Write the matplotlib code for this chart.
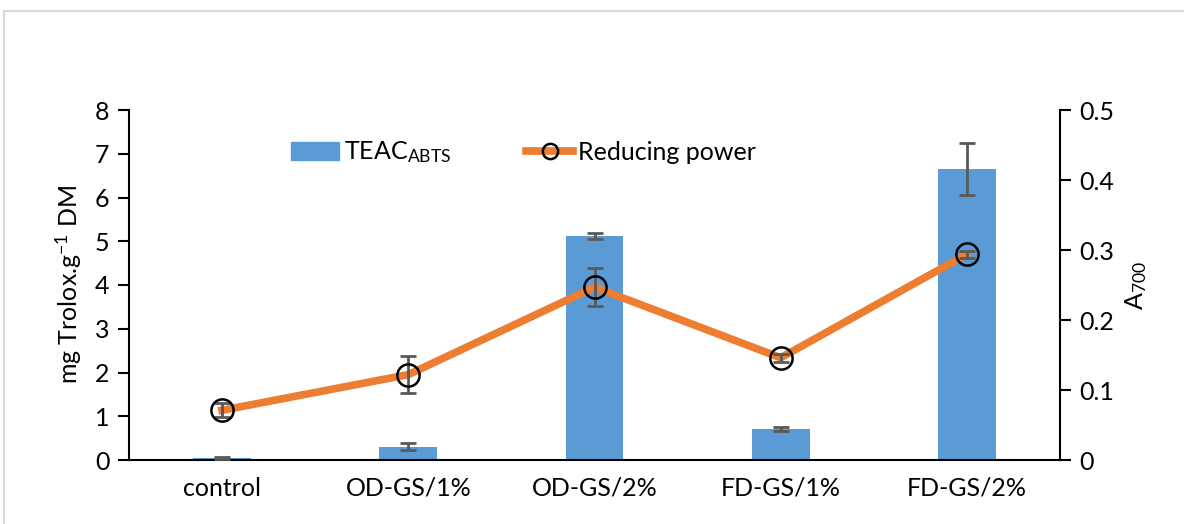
import matplotlib
matplotlib.use('Agg')
import numpy as np
import matplotlib.pyplot as plt
from matplotlib.patches import Rectangle
from matplotlib.lines import Line2D
from matplotlib.patches import Patch

plt.rcParams['font.family'] = ['Lato', 'DejaVu Sans']
plt.rcParams['mathtext.default'] = 'regular'

categories = ['control', 'OD-GS/1%', 'OD-GS/2%', 'FD-GS/1%', 'FD-GS/2%']
teac = [0.04, 0.30, 5.13, 0.71, 6.65]
teac_err = [0.02, 0.08, 0.07, 0.05, 0.60]
a700 = [0.071, 0.122, 0.247, 0.146, 0.294]
a700_err = [0.010, 0.026, 0.027, 0.006, 0.005]

blue = '#5B9BD5'
orange = '#ED7D31'
errc = '#595959'
fs = 18

fig = plt.figure(figsize=(11.84, 5.24), dpi=100)
# light gray outer frame
fig.patches.append(Rectangle((4/1184, -0.05), 1.1, 1 - 11/524 + 0.05, transform=fig.transFigure,
                             fill=False, edgecolor='#d9d9d9', linewidth=1.5))

ax1 = fig.add_axes([129/1184, 1 - 460/524, (1060 - 129)/1184, 350/524])
x = np.arange(len(categories))
ax1.bar(x, teac, width=0.31, color=blue, zorder=2)
ax1.errorbar(x, teac, yerr=teac_err, fmt='none', ecolor=errc, elinewidth=2, capsize=6, capthick=2, zorder=3)
ax1.set_xlim(-0.5, 4.5)
ax1.set_ylim(0, 8)
ax1.set_yticks(range(0, 9))
ax1.set_xticks(x)
ax1.set_xticklabels(categories)
ax1.tick_params(axis='x', length=0, labelsize=fs, pad=12)
ax1.tick_params(axis='y', length=8, width=1.5, labelsize=fs, direction='out', pad=6)
ax1.spines['top'].set_visible(False)
ax1.spines['right'].set_visible(False)
ax1.spines['left'].set_linewidth(1.5)
ax1.spines['bottom'].set_linewidth(1.5)
ax1.set_ylabel('mg Trolox.g$^{-1}$ DM', fontsize=fs, labelpad=8)

ax2 = ax1.twinx()
ax2.plot(x, a700, color=orange, linewidth=5.5, zorder=2)
ax2.errorbar(x, a700, yerr=a700_err, fmt='none', ecolor=errc, elinewidth=2, capsize=6, capthick=2, zorder=3)
ax2.plot(x, a700, linestyle='none', marker='o', markersize=16, markerfacecolor='none',
         markeredgecolor='black', markeredgewidth=1.8, zorder=4)
ax2.set_ylim(0, 0.5)
ax2.set_yticks([0, 0.1, 0.2, 0.3, 0.4, 0.5])
ax2.set_yticklabels(['0', '0.1', '0.2', '0.3', '0.4', '0.5'])
ax2.tick_params(axis='y', length=8, width=1.5, labelsize=fs, direction='out', pad=6)
ax2.spines['top'].set_visible(False)
ax2.spines['left'].set_visible(False)
ax2.spines['bottom'].set_visible(False)
ax2.spines['right'].set_linewidth(1.5)
ax2.set_ylabel('A$_{700}$', fontsize=fs, labelpad=6)

handles = [Patch(color=blue),
           Line2D([], [], color=orange, linewidth=5.5, marker='o', markersize=11,
                  markerfacecolor='none', markeredgecolor='black', markeredgewidth=1.8)]
labels = ['TEAC$_{ABTS}$', 'Reducing power']
ax1.legend(handles, labels, loc='upper left', bbox_to_anchor=(0.15, 0.98), ncol=2, frameon=False,
           fontsize=fs, columnspacing=3.0, handlelength=1.9, handletextpad=0.2)

fig.savefig('out.png', dpi=100)
